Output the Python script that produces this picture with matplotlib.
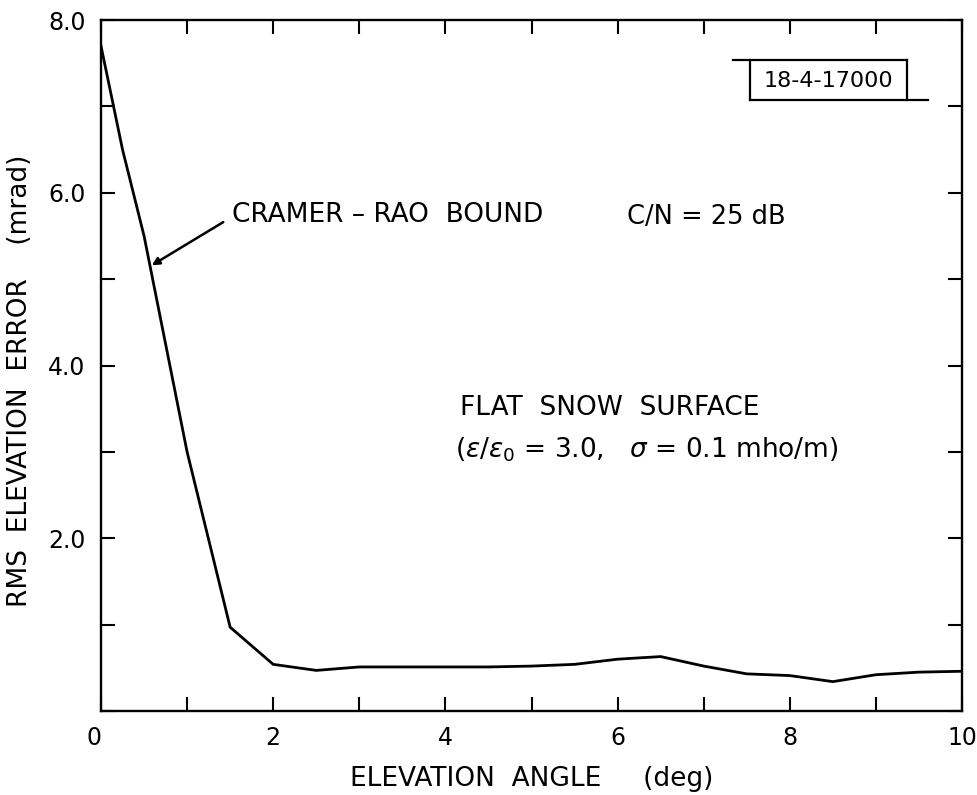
import matplotlib
matplotlib.use("Agg")
import matplotlib.pyplot as plt
from matplotlib.lines import Line2D
from matplotlib.ticker import MultipleLocator

# elevation angle (deg) and rms elevation error (mrad)
angle = [0.0, 0.25, 0.5, 0.75, 1.0, 1.5, 2.0, 2.5, 3.0, 3.5, 4.0, 4.5, 5.0,
         5.5, 6.0, 6.5, 7.0, 7.5, 8.0, 8.5, 9.0, 9.5, 10.0]
rms_err = [7.7, 6.5, 5.5, 4.25, 3.0, 0.97, 0.54, 0.47, 0.51, 0.51, 0.51, 0.51, 0.52,
           0.54, 0.60, 0.63, 0.52, 0.43, 0.41, 0.34, 0.42, 0.45, 0.46]

xtick_vals = [0, 2, 4, 6, 8, 10]
xtick_labels = ["0", "2", "4", "6", "8", "10"]
ytick_vals = [0, 2, 4, 6, 8]
ytick_labels = ["", "2.0", "4.0", "6.0", "8.0"]

plt.rcParams['font.family'] = ['DejaVu Sans']

W, H = 978, 795
fig = plt.figure(figsize=(W / 100, H / 100), dpi=100)
ax = fig.add_axes([101 / W, 1 - 711 / H, (962 - 101) / W, (711 - 20) / H])

ax.plot(angle, rms_err, color='black', lw=2.0)

ax.set_xlim(0, 10)
ax.set_ylim(0, 8)
ax.set_xticks(xtick_vals)
ax.set_xticklabels(xtick_labels)
ax.set_yticks(ytick_vals)
ax.set_yticklabels(ytick_labels)
ax.xaxis.set_minor_locator(MultipleLocator(1))
ax.yaxis.set_minor_locator(MultipleLocator(1))
ax.tick_params(which='both', direction='in', length=10, width=1.5,
               top=True, right=True, labelsize=17, pad=11)
ax.get_xticklabels()[0].set_horizontalalignment('right')
for s in ax.spines.values():
    s.set_linewidth(1.7)

ax.set_xlabel("ELEVATION  ANGLE     (deg)", fontsize=19, labelpad=11)
ax.set_ylabel("RMS  ELEVATION  ERROR    (mrad)", fontsize=19)
ax.yaxis.set_label_coords((33 - 101) / 861, (711 - 381) / 691)

# annotations
ax.annotate("", xy=(0.59, 5.16), xytext=(1.42, 5.66),
            arrowprops=dict(arrowstyle='-|>', color='black', lw=1.8,
                            mutation_scale=11, shrinkA=0, shrinkB=0))
ax.text(1.52, 5.74, "CRAMER – RAO  BOUND", fontsize=19, va='center', ha='left')
ax.text(6.11, 5.72, "C/N = 25 dB", fontsize=18.5, va='center', ha='left')
ax.text(4.17, 3.51, "FLAT  SNOW  SURFACE", fontsize=19, va='center', ha='left')
ax.text(4.11, 3.02, r"($\epsilon/\epsilon_0$ = 3.0,   $\sigma$ = 0.1 mho/m)",
        fontsize=19, va='center', ha='left')

# stamp box top right
def fline(x0, y0, x1, y1):
    fig.add_artist(Line2D([x0 / W, x1 / W], [1 - y0 / H, 1 - y1 / H],
                          color='black', lw=1.6))

fline(733, 60, 907, 60)
fline(750, 60, 750, 100)
fline(907, 60, 907, 100)
fline(750, 100, 928, 100)
fig.text(828 / W, 1 - 81 / H, "18-4-17000", fontsize=16, ha='center', va='center')

fig.savefig("out.png", dpi=100)
